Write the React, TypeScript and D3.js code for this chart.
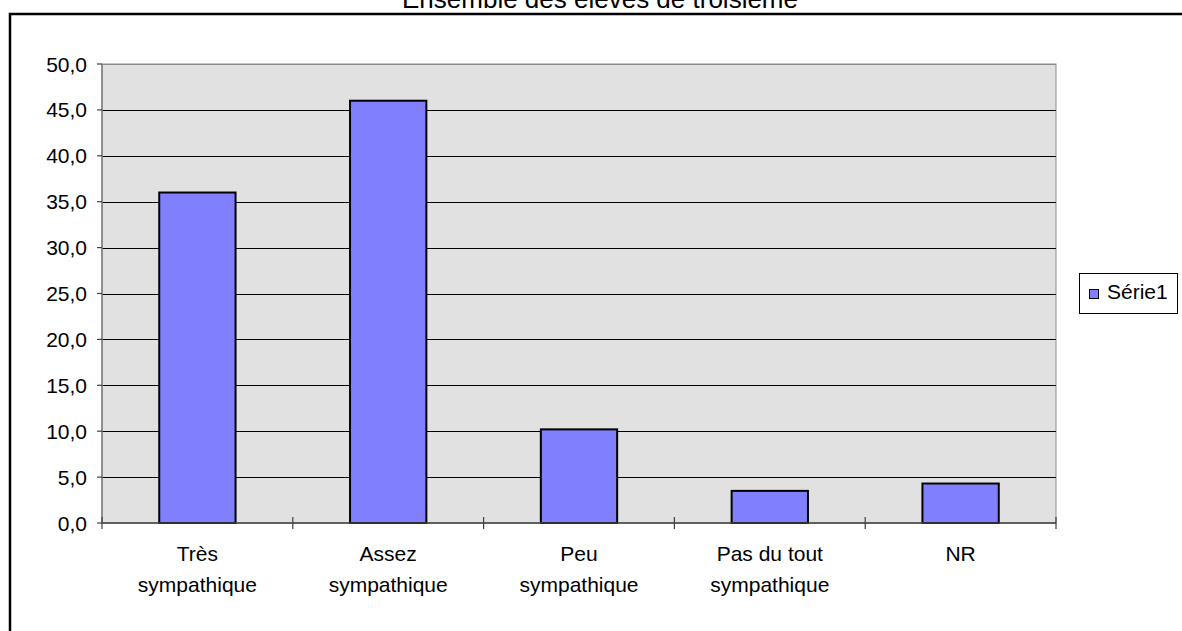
import React from "react";
import * as d3 from "d3";

const title = "Ensemble des élèves de troisième";
const categories: string[][] = [
  ["Très", "sympathique"],
  ["Assez", "sympathique"],
  ["Peu", "sympathique"],
  ["Pas du tout", "sympathique"],
  ["NR"],
];
const values: number[] = [36.0, 46.0, 10.2, 3.5, 4.3];
const yTicks: number[] = [0, 5, 10, 15, 20, 25, 30, 35, 40, 45, 50];
const seriesName = "Série1";

const W = 1182;
const H = 631;
const plot = { left: 102, right: 1056, top: 64, bottom: 523 };
const FONT = "'Liberation Sans', Arial, sans-serif";

export default function App() {
  const keys = categories.map((c) => c.join(" "));
  const x = d3
    .scaleBand<string>()
    .domain(keys)
    .range([plot.left, plot.right])
    .paddingInner(0.6)
    .paddingOuter(0.3);
  const xCat = d3.scaleBand<string>().domain(keys).range([plot.left, plot.right]);
  const y = d3.scaleLinear().domain([0, 50]).range([plot.bottom, plot.top]);
  const fmt = (v: number) => v.toFixed(1).replace(".", ",");
  const boundaries = d3.range(keys.length + 1).map((i) => plot.left + i * xCat.step());

  return (
    <svg
      width={W}
      height={H}
      style={{ position: "absolute", left: 0, top: 0, background: "#fff" }}
      fontFamily={FONT}
    >
      <rect x={10} y={14} width={1300} height={800} fill="#fff" stroke="#000" strokeWidth={2.5} />
      <text x={600} y={7.5} fontSize={26} textAnchor="middle" fill="#000">
        {title}
      </text>
      <rect
        x={plot.left}
        y={plot.top}
        width={plot.right - plot.left}
        height={plot.bottom - plot.top}
        fill="#e1e1e1"
        stroke="#8a8a8a"
        strokeWidth={1}
      />
      {yTicks
        .filter((t) => t > 0)
        .map((t) => (
          <line
            key={"g" + t}
            x1={plot.left}
            x2={plot.right}
            y1={Math.round(y(t)) + 0.5}
            y2={Math.round(y(t)) + 0.5}
            stroke={t === 50 ? "#8a8a8a" : "#000"}
            strokeWidth={1}
          />
        ))}
      {values.map((v, i) => (
        <rect
          key={"b" + i}
          x={x(keys[i])!}
          y={y(v)}
          width={x.bandwidth()}
          height={plot.bottom - y(v)}
          fill="#8080ff"
          stroke="#000"
          strokeWidth={2}
        />
      ))}
      <line x1={plot.left} x2={plot.left} y1={plot.top} y2={plot.bottom} stroke="#808080" strokeWidth={1.5} />
      <line x1={plot.left} x2={plot.right} y1={plot.bottom} y2={plot.bottom} stroke="#404040" strokeWidth={1.5} />
      {yTicks.map((t) => (
        <g key={"t" + t}>
          <line x1={plot.left - 5} x2={plot.left} y1={y(t)} y2={y(t)} stroke="#404040" strokeWidth={1.2} />
          <text x={87} y={y(t)} dy="0.36em" fontSize={21} textAnchor="end" fill="#000">
            {fmt(t)}
          </text>
        </g>
      ))}
      {boundaries.map((bx, i) => (
        <line key={"xt" + i} x1={bx} x2={bx} y1={plot.bottom - 6} y2={plot.bottom + 6} stroke="#404040" strokeWidth={1.2} />
      ))}
      {categories.map((lines, i) => (
        <text
          key={"c" + i}
          x={xCat(keys[i])! + xCat.bandwidth() / 2}
          y={561}
          fontSize={21}
          textAnchor="middle"
          fill="#000"
        >
          {lines.map((ln, j) => (
            <tspan key={j} x={xCat(keys[i])! + xCat.bandwidth() / 2} dy={j === 0 ? 0 : 31}>
              {ln}
            </tspan>
          ))}
        </text>
      ))}
      <g>
        <rect x={1079.5} y={273.5} width={98} height={40} fill="#fff" stroke="#000" strokeWidth={1} />
        <rect x={1089.5} y={289.5} width={9} height={9} fill="#8080ff" stroke="#000" strokeWidth={1} />
        <text x={1107} y={298.5} fontSize={21} fill="#000">
          {seriesName}
        </text>
      </g>
    </svg>
  );
}
